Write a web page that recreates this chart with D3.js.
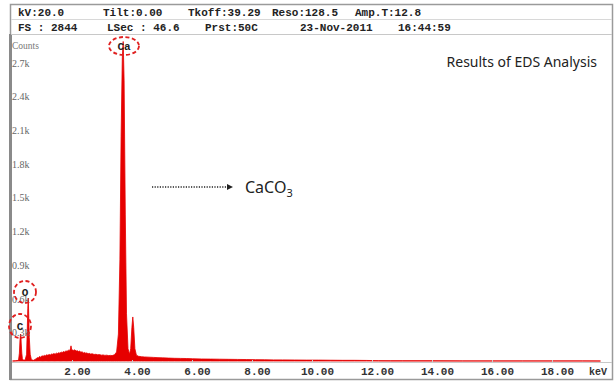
<!DOCTYPE html>
<html>
<head>
<meta charset="utf-8">
<script src="https://cdn.jsdelivr.net/npm/d3@7"></script>
<style>
  body { margin: 0; background: #fff; }
  .mono { font-family: "Liberation Mono", "DejaVu Sans Mono", monospace; font-weight: bold; }
  .serif { font-family: "Liberation Serif", "DejaVu Serif", serif; }
</style>
</head>
<body>
<div id="chart"></div>
<script>
// Set dimensions of the whole picture
const width = 615;
const height = 382;
const margin = {left: 12, right: 4, top: 36, bottom: 20};

// Header text of the EDS instrument
const headerRow1 = ["kV:20.0", "Tilt:0.00", "Tkoff:39.29", "Reso:128.5", "Amp.T:12.8"];
const headerRow2 = ["FS : 2844", "LSec : 46.6", "Prst:50C", "23-Nov-2011", "16:44:59"];

// Axis ticks
const xTicks = [2, 4, 6, 8, 10, 12, 14, 16, 18];
const yTicks = [300, 600, 900, 1200, 1500, 1800, 2100, 2400, 2700];

// Spectrum (keV, counts)
const energy = [
  0.00, 0.10, 0.20, 0.23, 0.25, 0.27, 0.28, 0.29, 0.31, 0.33, 0.36,
  0.42, 0.47, 0.49, 0.51, 0.525, 0.54, 0.56, 0.59, 0.63, 0.70,
  0.78, 0.82, 0.86, 0.90, 0.94, 0.98, 1.02, 1.06, 1.10, 1.14, 1.18, 1.22,
  1.26, 1.30, 1.34, 1.38, 1.42, 1.46, 1.50, 1.54, 1.58, 1.62, 1.66, 1.70,
  1.74, 1.78, 1.82, 1.86, 1.90, 1.93, 1.95, 1.97, 2.00, 2.04, 2.08, 2.12,
  2.16, 2.20, 2.24, 2.28, 2.32, 2.36, 2.40, 2.44, 2.48, 2.52, 2.56, 2.60,
  2.66, 2.72, 2.78, 2.84, 2.90, 2.96, 3.02, 3.08, 3.14, 3.20, 3.26, 3.32,
  3.40, 3.47, 3.53, 3.58, 3.62, 3.66, 3.69, 3.72, 3.76, 3.80, 3.85, 3.90,
  3.94, 3.98, 4.01, 4.04, 4.08, 4.13, 4.20, 4.30, 4.40, 4.55, 4.70, 4.85,
  5.00, 5.20, 5.40, 5.60, 5.80, 6.00, 6.30, 6.60, 6.90, 7.20, 7.50, 7.80,
  8.10, 8.40, 8.70, 9.00, 9.40, 9.80, 10.2, 10.6, 11.0, 11.4, 11.8, 12.2,
  12.6, 13.0, 14.0, 15.0, 16.0, 17.0, 18.0, 19.0, 19.6
];
const counts = [
  0, 2, 6, 70, 190, 240, 232, 160, 70, 20, 8,
  8, 60, 260, 470, 560, 420, 210, 60, 12, 6,
  18, 30, 26, 40, 34, 46, 42, 50, 47, 55, 51, 58,
  54, 62, 60, 66, 61, 70, 67, 74, 70, 79, 76, 84,
  80, 90, 86, 96, 92, 108, 135, 104, 98, 94, 100, 88,
  92, 84, 88, 78, 82, 72, 76, 70, 72, 64, 68, 62,
  64, 58, 60, 55, 57, 52, 54, 50, 52, 48, 50, 48,
  56, 80, 240, 900, 2000, 2700, 2844, 2500, 1300, 420, 110, 60,
  110, 300, 392, 300, 110, 52, 42, 38, 36, 34, 32, 30,
  28, 26, 24, 23, 22, 20, 18, 17, 16, 15, 14, 13,
  12, 11, 10, 10, 9, 8, 8, 7, 6, 6, 5, 3,
  2, 2, 2, 1, 1, 1, 1, 1, 0
];
const spectrum = energy.map((e, i) => ({e: e, c: counts[i]}));

// Element labels
const elements = [
  {name: "Ca", e: 3.69, c: 2844},
  {name: "O", e: 0.525, c: 560},
  {name: "C", e: 0.28, c: 240}
];

const svg = d3.select("#chart")
  .append("svg")
  .attr("width", width)
  .attr("height", height);

svg.append("rect")
  .attr("width", width).attr("height", height)
  .attr("fill", "#fff");

/*
  Scales
*/
const xScale = d3.scaleLinear()
  .domain([0, 20])
  .range([12.5, 12.5 + 20 * 30]);

const yScale = d3.scaleLinear()
  .domain([0, 2844])
  .range([361, 41.5]);

/*
  Frame and header
*/
svg.append("rect")
  .attr("x", 10.5).attr("y", 4.5)
  .attr("width", 602).attr("height", 375)
  .attr("fill", "none")
  .attr("stroke", "#9a9a9a")
  .attr("stroke-width", 1.5);

svg.append("line")
  .attr("x1", 10.5).attr("x2", 10.5)
  .attr("y1", 34).attr("y2", 380)
  .attr("stroke", "#8a8a8a").attr("stroke-width", 3);

svg.append("line")
  .attr("x1", 11).attr("x2", 612)
  .attr("y1", 19.5).attr("y2", 19.5)
  .attr("stroke", "#d8d8d8");

svg.append("line")
  .attr("x1", 11).attr("x2", 612)
  .attr("y1", 34.5).attr("y2", 34.5)
  .attr("stroke", "#c8c8c8");

const row1X = [18, 103, 188, 272, 355];
const row2X = [18, 107, 205, 300, 398];

svg.selectAll(".h1")
  .data(headerRow1)
  .enter().append("text")
  .attr("class", "mono")
  .attr("x", (d, i) => row1X[i])
  .attr("y", 16)
  .attr("font-size", "11px")
  .attr("fill", "#222")
  .text(d => d);

svg.selectAll(".h2")
  .data(headerRow2)
  .enter().append("text")
  .attr("class", "mono")
  .attr("x", (d, i) => row2X[i])
  .attr("y", 31)
  .attr("font-size", "11px")
  .attr("fill", "#222")
  .text(d => d);

/*
  Spectrum
*/
const area = d3.area()
  .x(d => xScale(d.e))
  .y0(yScale(0))
  .y1(d => yScale(d.c));

svg.append("path")
  .datum(spectrum)
  .attr("d", area)
  .attr("fill", "#e60000")
  .attr("stroke", "#e60000")
  .attr("stroke-width", 0.8);

/*
  Axes
*/
svg.append("line")
  .attr("x1", 12).attr("x2", 612)
  .attr("y1", 362.5).attr("y2", 362.5)
  .attr("stroke", "#c8c8c8");

svg.selectAll(".xtick")
  .data(xTicks)
  .enter().append("line")
  .attr("x1", d => xScale(d)).attr("x2", d => xScale(d))
  .attr("y1", 360).attr("y2", 363)
  .attr("stroke", "#ccc");

svg.selectAll(".xlab")
  .data(xTicks)
  .enter().append("text")
  .attr("class", "mono")
  .attr("x", d => xScale(d) + 5)
  .attr("y", 375)
  .attr("text-anchor", "middle")
  .attr("font-size", "11px")
  .attr("fill", "#333")
  .text(d => d.toFixed(2));

svg.append("text")
  .attr("class", "mono")
  .attr("x", 598).attr("y", 375)
  .attr("text-anchor", "middle")
  .attr("font-size", "10px")
  .attr("fill", "#333")
  .text("keV");

svg.selectAll(".ylab")
  .data(yTicks)
  .enter().append("text")
  .attr("class", "serif")
  .attr("x", 12)
  .attr("y", d => yScale(d) + 9)
  .attr("font-size", "10px")
  .attr("fill", "#666")
  .text(d => (d / 1000).toFixed(1) + "k");

svg.append("text")
  .attr("class", "serif")
  .attr("x", 12).attr("y", 49)
  .attr("font-size", "9.5px")
  .attr("fill", "#777")
  .text("Counts");

/*
  Element markers
*/
const markers = [
  {el: elements[0], cx: 124, cy: 46, rx: 15, ry: 9},
  {el: elements[1], cx: 25, cy: 292, rx: 11, ry: 11},
  {el: elements[2], cx: 20, cy: 326, rx: 11, ry: 12}
];

svg.selectAll(".elab")
  .data(markers)
  .enter().append("text")
  .attr("class", "mono")
  .attr("x", d => d.cx)
  .attr("y", d => d.cy + 4)
  .attr("text-anchor", "middle")
  .attr("font-size", "11px")
  .attr("fill", "#222")
  .text(d => d.el.name);

svg.selectAll(".ering")
  .data(markers)
  .enter().append("ellipse")
  .attr("cx", d => d.cx)
  .attr("cy", d => d.cy)
  .attr("rx", d => d.rx)
  .attr("ry", d => d.ry)
  .attr("fill", "none")
  .attr("stroke", "#e02020")
  .attr("stroke-width", 1.8)
  .attr("stroke-dasharray", "4,2.5");

/*
  Annotations
*/
svg.append("text")
  .attr("x", 597).attr("y", 67)
  .attr("text-anchor", "end")
  .attr("font-family", "'Noto Sans', 'DejaVu Sans', sans-serif")
  .attr("font-size", "14px")
  .attr("fill", "#222")
  .text("Results of EDS Analysis");

svg.append("line")
  .attr("x1", 152).attr("x2", 228)
  .attr("y1", 187).attr("y2", 187)
  .attr("stroke", "#222")
  .attr("stroke-width", 1.3)
  .attr("stroke-dasharray", "1.2,1.4");

svg.append("path")
  .attr("d", "M227,184 L233,187 L227,190 Z")
  .attr("fill", "#222");

const caco3 = svg.append("text")
  .attr("x", 245).attr("y", 193)
  .attr("font-family", "'Noto Sans', 'DejaVu Sans', sans-serif")
  .attr("font-size", "16px")
  .attr("fill", "#222");
caco3.append("tspan").text("CaCO");
caco3.append("tspan").attr("dy", 4).attr("font-size", "11px").text("3");
</script>
</body>
</html>
